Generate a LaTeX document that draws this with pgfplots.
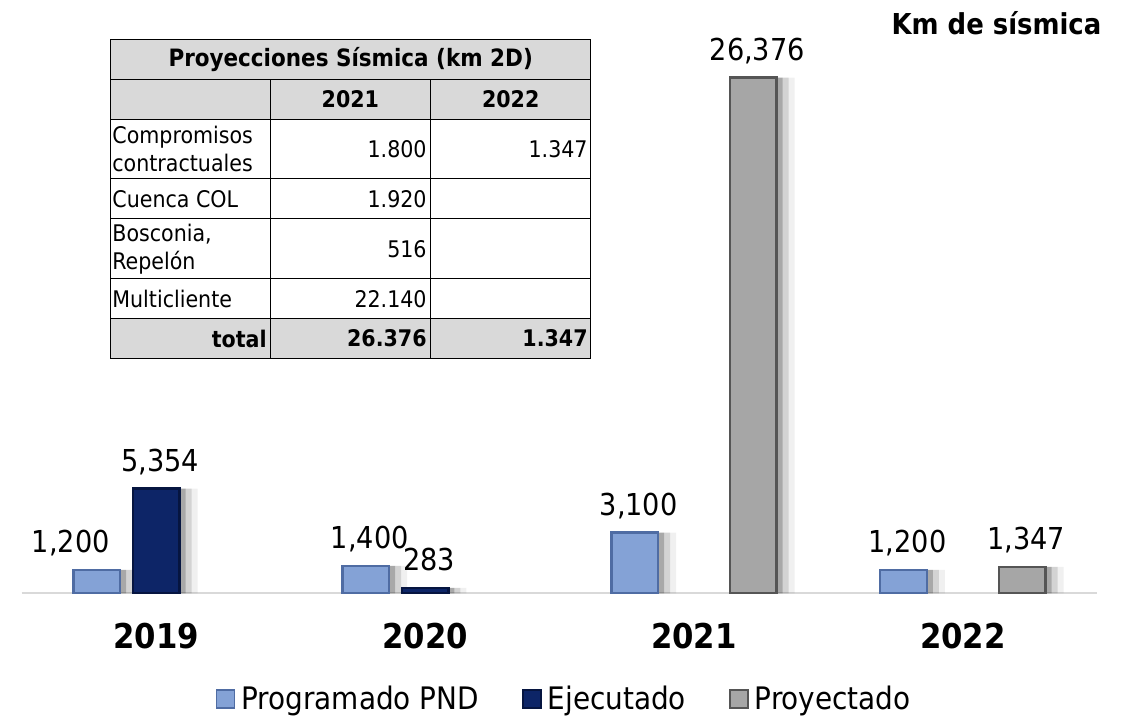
\documentclass[border=0pt]{standalone}
\usepackage{fontspec}
\setmainfont{DejaVu Sans Condensed}
\usepackage{pgfplots}
\pgfplotsset{compat=1.18}
\definecolor{progfill}{HTML}{84A2D6}
\definecolor{progedge}{HTML}{4F6CA3}
\definecolor{ejefill}{HTML}{0D2567}
\definecolor{ejeedge}{HTML}{061540}
\definecolor{proyfill}{HTML}{A6A6A6}
\definecolor{proyedge}{HTML}{555555}
\definecolor{tblgray}{HTML}{D9D9D9}
\definecolor{axisgray}{HTML}{D9D9D9}
\pgfkeys{/pgf/number format/.cd, fixed, precision=0, 1000 sep={,}, assume math mode=true}
\newcommand\tf{\fontsize{11.45}{14}\selectfont}
\begin{document}
\begin{tikzpicture}
\useasboundingbox (0,0) rectangle (565pt,359pt);
\begin{axis}[
  at={(10.85pt,62.35pt)}, anchor=south west,
  scale only axis, width=537.8pt, height=273.7pt,
  xmin=-0.5, xmax=3.5, ymin=0, ymax=28000,
  ybar, bar width=23.35pt,
  axis x line*=bottom, axis y line=none,
  x axis line style={draw=axisgray, line width=1pt, -},
  xtick={0,1,2,3}, xticklabels={2019,2020,2021,2022},
  xtick style={draw=none}, major tick length=0pt,
  xticklabel style={font=\bfseries\fontsize{17.1}{20}\selectfont, anchor=base, yshift=-27.5pt},
  ytick=\empty,
  clip=false,
  every node near coord/.append style={font=\fontsize{15.1}{18}\selectfont, anchor=base, yshift=8.75pt, xshift=2pt, text=black},
  legend columns=3,
  legend style={draw=none, fill=none, inner sep=0pt, at={(0.18,-0.193)}, anchor=west,
    font=\fontsize{15.5}{18}\selectfont,
    /tikz/every even column/.append style={column sep=19.5pt}},
  legend image code/.code={\draw[#1, line width=0.8pt] (0pt,-4.5pt) rectangle (9pt,4.5pt); \path[draw=none,fill=none] (0pt,0pt) -- (10.5pt,0pt);},
]
% soft shadows to the right of the bars
\addplot[forget plot, bar shift=-26.65pt, draw=none, fill=black, fill opacity=0.20] coordinates {(0,1200) (1,1400) (2,3100) (3,1200)};
\addplot[forget plot, bar shift=-23.65pt, draw=none, fill=black, fill opacity=0.12] coordinates {(0,1200) (1,1400) (2,3100) (3,1200)};
\addplot[forget plot, bar shift=-20.65pt, draw=none, fill=black, fill opacity=0.06] coordinates {(0,1200) (1,1400) (2,3100) (3,1200)};
\addplot[forget plot, bar shift=3pt, draw=none, fill=black, fill opacity=0.20] coordinates {(0,5354) (1,283)};
\addplot[forget plot, bar shift=6pt, draw=none, fill=black, fill opacity=0.12] coordinates {(0,5354) (1,283)};
\addplot[forget plot, bar shift=9pt, draw=none, fill=black, fill opacity=0.06] coordinates {(0,5354) (1,283)};
\addplot[forget plot, bar shift=32.65pt, draw=none, fill=black, fill opacity=0.20] coordinates {(2,26376) (3,1347)};
\addplot[forget plot, bar shift=35.65pt, draw=none, fill=black, fill opacity=0.12] coordinates {(2,26376) (3,1347)};
\addplot[forget plot, bar shift=38.65pt, draw=none, fill=black, fill opacity=0.06] coordinates {(2,26376) (3,1347)};
% bars
\addplot[bar shift=-29.65pt, fill=progfill, draw=progedge, line width=1.2pt, nodes near coords,
  coordinate style/.condition={x==0}{xshift=-15pt}] coordinates {(0,1200) (1,1400) (2,3100) (3,1200)};
\addlegendentry{Programado PND}
\addplot[bar shift=0pt, fill=ejefill, draw=ejeedge, line width=1.2pt, nodes near coords] coordinates {(0,5354) (1,283)};
\addlegendentry{Ejecutado}
\addplot[bar shift=29.65pt, fill=proyfill, draw=proyedge, line width=1.2pt, nodes near coords] coordinates {(2,26376) (3,1347)};
\addlegendentry{Proyectado}
\end{axis}
% title at top right
\node[anchor=base east, font=\bfseries\fontsize{14.4}{17}\selectfont, inner sep=0pt] at (550.85pt,341.5pt) {Km de sísmica};
% table
\begin{scope}[shift={(0pt,359pt)}, x=0.5pt, y=-0.5pt]
\fill[tblgray] (110.7,39.3) rectangle (590.7,119.3);
\fill[tblgray] (110.7,318.7) rectangle (590.7,358.3);
\draw[black, line width=0.5pt] (110.7,39.3) rectangle (590.7,358.3);
\foreach \yy in {79.3,119.3,178.7,218.7,278.7,318.7} {\draw[black, line width=0.5pt] (110.7,\yy) -- (590.7,\yy);}
\draw[black, line width=0.5pt] (270,79.3) -- (270,358.3);
\draw[black, line width=0.5pt] (430.7,79.3) -- (430.7,358.3);
\node[font=\bfseries\fontsize{11.95}{14}\selectfont] at (350.7,59.3) {Proyecciones Sísmica (km 2D)};
\node[font=\bfseries\tf] at (350.35,99.3) {2021};
\node[font=\bfseries\tf] at (510.7,99.3) {2022};
\node[font=\tf, anchor=west, align=left, inner sep=0pt] at (112,149) {Compromisos\\contractuales};
\node[font=\tf, anchor=west, inner sep=0pt] at (112,198.7) {Cuenca COL};
\node[font=\tf, anchor=west, align=left, inner sep=0pt] at (112,248.7) {Bosconia,\\Repelón};
\node[font=\tf, anchor=west, inner sep=0pt] at (112,298.7) {Multicliente};
\node[font=\bfseries\tf, anchor=east, inner sep=0pt] at (267,338.5) {total};
\node[font=\tf, anchor=east, inner sep=0pt] at (427,149) {1.800};
\node[font=\tf, anchor=east, inner sep=0pt] at (588,149) {1.347};
\node[font=\tf, anchor=east, inner sep=0pt] at (427,198.7) {1.920};
\node[font=\tf, anchor=east, inner sep=0pt] at (427,248.7) {516};
\node[font=\tf, anchor=east, inner sep=0pt] at (427,298.7) {22.140};
\node[font=\bfseries\tf, anchor=east, inner sep=0pt] at (427,338.5) {26.376};
\node[font=\bfseries\tf, anchor=east, inner sep=0pt] at (588,338.5) {1.347};
\end{scope}
\end{tikzpicture}
\end{document}
